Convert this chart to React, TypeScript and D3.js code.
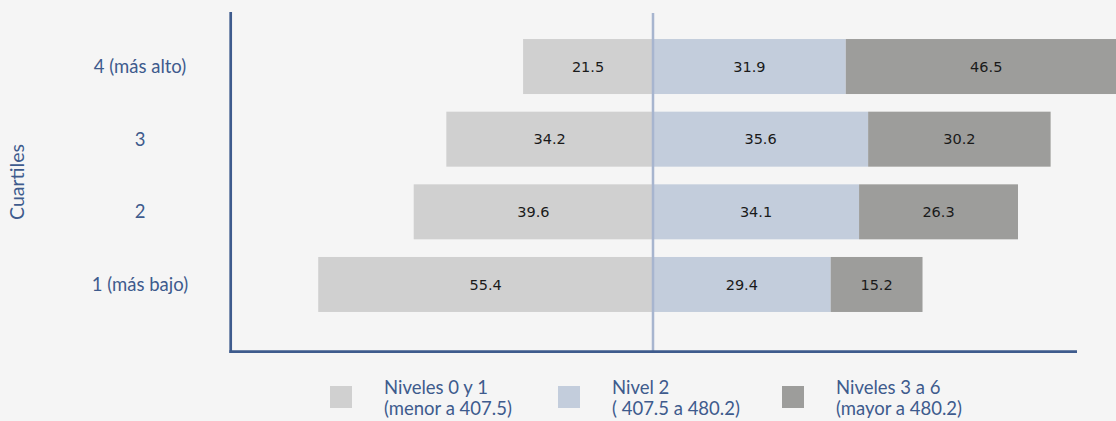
import React from "react";
import * as d3 from "d3";

const categories = ["4 (más alto)", "3", "2", "1 (más bajo)"];
const nivel01 = [21.5, 34.2, 39.6, 55.4];
const nivel2 = [31.9, 35.6, 34.1, 29.4];
const nivel36 = [46.5, 30.2, 26.3, 15.2];
const legendLine1 = ["Niveles 0 y 1", "Nivel 2", "Niveles 3 a 6"];
const legendLine2 = ["(menor a 407.5)", "( 407.5 a 480.2)", "(mayor a 480.2)"];
const colors = ["#d0d0d0", "#c3cddc", "#9d9d9b"];
const xDomain = [-70, 70];

const W = 1116;
const H = 421;
const axisColor = "#3e5b8d";
const labelFont = "Lato, 'Open Sans', sans-serif";

export default function App() {
  const x = d3.scaleLinear().domain(xDomain).range([230, 1076]);
  const y = d3
    .scaleBand<string>()
    .domain(categories)
    .range([30.2, 320.8])
    .paddingInner(0.243)
    .paddingOuter(0.1215);
  const bh = y.bandwidth();

  const segs: { key: string; x0: number; x1: number; color: string; v: number; y: number }[] = [];
  categories.forEach((c, i) => {
    const yy = y(c) as number;
    segs.push({ key: c + "a", x0: x(-nivel01[i]), x1: x(0), color: colors[0], v: nivel01[i], y: yy });
    segs.push({ key: c + "b", x0: x(0), x1: x(nivel2[i]), color: colors[1], v: nivel2[i], y: yy });
    segs.push({
      key: c + "c",
      x0: x(nivel2[i]),
      x1: x(nivel2[i] + nivel36[i]),
      color: colors[2],
      v: nivel36[i],
      y: yy,
    });
  });

  const legendX = [330, 558, 782];

  return (
    <svg width={W} height={H} style={{ position: "absolute", left: 0, top: 0, background: "#f5f5f5" }}>
      <rect x={0} y={0} width={W} height={H} fill="#f5f5f5" />
      {segs.map((s) => (
        <rect key={s.key} x={s.x0} y={s.y} width={s.x1 - s.x0} height={bh} fill={s.color} />
      ))}
      {segs.map((s) => (
        <text
          key={s.key + "t"}
          x={(s.x0 + s.x1) / 2}
          y={s.y + bh / 2}
          dy="0.36em"
          textAnchor="middle"
          fontFamily="'DejaVu Sans', sans-serif"
          fontSize={14.5}
          fill="#1a1a1a"
        >
          {s.v.toFixed(1)}
        </text>
      ))}
      {/* center line */}
      <line x1={x(0)} x2={x(0)} y1={13} y2={351} stroke="#a7b5cf" strokeWidth={2.5} />
      {/* axes */}
      <line x1={230.7} x2={230.7} y1={12} y2={353} stroke={axisColor} strokeWidth={2.7} />
      <line x1={229.4} x2={1077} y1={351.7} y2={351.7} stroke={axisColor} strokeWidth={2.7} />
      {categories.map((c) => (
        <text
          key={c}
          x={140}
          y={(y(c) as number) + bh / 2}
          dy="0.35em"
          textAnchor="middle"
          fontFamily={labelFont}
          fontSize={18.5}
          fill={axisColor}
        >
          {c}
        </text>
      ))}
      <text
        transform="translate(24,182) rotate(-90)"
        textAnchor="middle"
        fontFamily={labelFont}
        fontSize={19.5}
        fill={axisColor}
      >
        Cuartiles
      </text>
      {legendLine1.map((t, i) => (
        <g key={t}>
          <rect x={legendX[i]} y={386} width={22} height={22} fill={colors[i]} />
          <text x={legendX[i] + 54} y={393.5} fontFamily={labelFont} fontSize={18.5} fill={axisColor}>
            {t}
          </text>
          <text x={legendX[i] + 54} y={414.5} fontFamily={labelFont} fontSize={18.5} fill={axisColor}>
            {legendLine2[i]}
          </text>
        </g>
      ))}
    </svg>
  );
}
